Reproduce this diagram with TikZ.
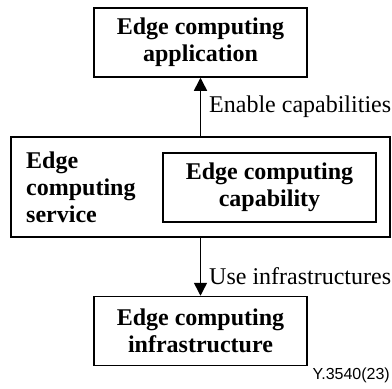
\documentclass[tikz,border=0pt]{standalone}
\usepackage{fontspec}
\setmainfont{Liberation Serif}
\setsansfont{Liberation Sans}
\usetikzlibrary{arrows.meta}

\begin{document}
\begin{tikzpicture}[
    x=1pt, y=-1pt,
    % Global styles
    box/.style={draw=black, line width=1.5pt, minimum width=213pt, minimum height=69pt,
        inner sep=0pt, align=center, font=\fontsize{24}{27}\selectfont\bfseries},
    flow/.style={line width=1.5pt, -{Triangle[length=13pt, width=13pt]}},
    flowlabel/.style={anchor=base west, inner sep=0pt, font=\fontsize{24}{27}\selectfont}
    ]
    \useasboundingbox (0,0) rectangle (392,389);

    % Boxes
    \node[box] (app) at (200.5,42.5) {Edge computing\\application};
    \node[box, minimum width=379pt, minimum height=100pt] (service) at (200.5,187) {};
    \node[box] (capability) at (269.5,187.5) {Edge computing\\capability};
    \node[box] (infra) at (200.5,331) {Edge computing\\infrastructure};

    % Labels
    \node[anchor=north west, inner sep=0pt, align=left,
        font=\fontsize{24}{27}\selectfont\bfseries] (servicetext) at (26,152) {Edge\\computing\\service};
    \node[flowlabel] (enable) at (209,112) {Enable capabilities};
    \node[flowlabel] (use) at (209,284) {Use infrastructures};
    \node[anchor=base east, inner sep=0pt, font=\fontsize{16}{18}\sffamily] (figid) at (390,379) {Y.3540(23)};

    % Edges
    \draw[flow] (service.north) -- (app.south);
    \draw[flow] (service.south) -- (infra.north);

\end{tikzpicture}
\end{document}
